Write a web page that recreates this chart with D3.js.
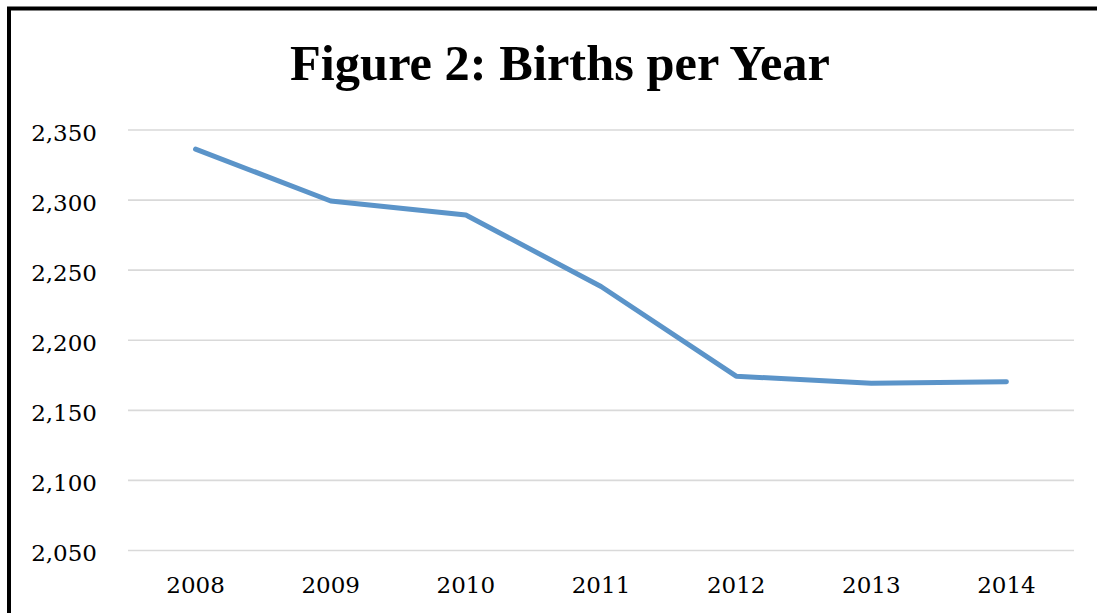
<!DOCTYPE html>
<html>
<head>
<meta charset="utf-8">
<script src="https://cdn.jsdelivr.net/npm/d3@7"></script>
<style>
  html, body { margin: 0; padding: 0; background: #fff; overflow: hidden; }
  svg { display: block; }
</style>
</head>
<body>
<svg id="chart" width="1097" height="613"></svg>
<script>
// Births per year, 2008–2014
const years = ["2008", "2009", "2010", "2011", "2012", "2013", "2014"];
const births = [2336, 2299, 2289, 2238, 2174, 2169, 2170];
const yTicks = [2050, 2100, 2150, 2200, 2250, 2300, 2350];
const titleText = "Figure 2: Births per Year";

const W = 1097, H = 613;
const plot = { left: 128, right: 1074, top: 129.5, bottom: 550 };

const svg = d3.select("#chart");

// frame edges on the left and top
svg.append("path")
  .attr("d", `M9,${H + 5} L9,8.5 L${W + 5},8.5`)
  .attr("fill", "none")
  .attr("stroke", "#000")
  .attr("stroke-width", 4);

const x = d3.scaleBand()
  .domain(years)
  .range([plot.left, plot.right])
  .paddingInner(0).paddingOuter(0);

const y = d3.scaleLinear()
  .domain([2050, 2350])
  .range([plot.bottom, plot.top]);

// title
svg.append("text")
  .attr("x", 560).attr("y", 80)
  .attr("text-anchor", "middle")
  .attr("font-family", "'Liberation Serif', serif")
  .attr("font-weight", "bold")
  .attr("font-size", 50)
  .attr("fill", "#000")
  .attr("textLength", 540)
  .attr("lengthAdjust", "spacingAndGlyphs")
  .text(titleText);

// horizontal gridlines + y labels
const yAxis = d3.axisLeft(y)
  .tickValues(yTicks)
  .tickSize(-(plot.right - plot.left))
  .tickPadding(31)
  .tickFormat(d3.format(","));

const gy = svg.append("g")
  .attr("transform", `translate(${plot.left},0)`)
  .call(yAxis);
gy.select(".domain").remove();
gy.selectAll(".tick line")
  .attr("stroke", "#d9d9d9")
  .attr("stroke-width", 1.6);
gy.selectAll(".tick text")
  .attr("font-family", "'DejaVu Serif', serif")
  .attr("font-size", 23)
  .attr("fill", "#000")
  .attr("dy", "0.47em");

// x labels
const xAxis = d3.axisBottom(x).tickSize(0).tickPadding(0);
const gx = svg.append("g")
  .attr("transform", `translate(0,${plot.bottom})`)
  .call(xAxis);
gx.select(".domain").remove();
gx.selectAll(".tick text")
  .attr("font-family", "'DejaVu Serif', serif")
  .attr("font-size", 23)
  .attr("fill", "#000")
  .attr("y", 43)
  .attr("dy", 0);

// series line
const line = d3.line()
  .x((d, i) => x(years[i]) + x.bandwidth() / 2)
  .y(d => y(d));

svg.append("path")
  .datum(births)
  .attr("d", line)
  .attr("fill", "none")
  .attr("stroke", "#5b94c9")
  .attr("stroke-width", 5)
  .attr("stroke-linecap", "round")
  .attr("stroke-linejoin", "round");
</script>
</body>
</html>
